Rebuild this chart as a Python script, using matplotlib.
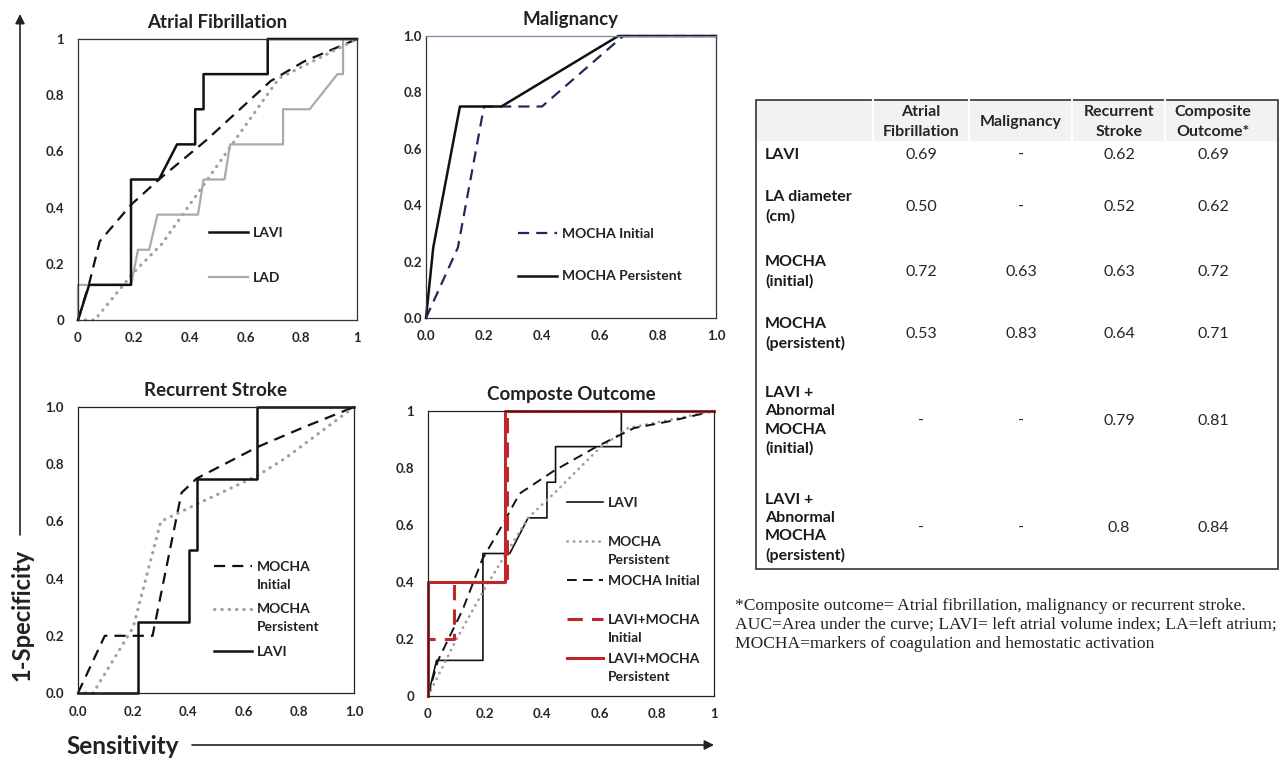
import numpy as np
import matplotlib
matplotlib.use("Agg")
import matplotlib.pyplot as plt
from matplotlib.patches import Rectangle
from matplotlib.legend_handler import HandlerLine2D

plt.rcParams['font.family'] = ['Lato', 'DejaVu Sans']

# ---- ROC curves (x = 1-specificity axis, y = sensitivity axis as drawn)
# Atrial fibrillation
af_lavi_x = [0, 0.04, 0.19, 0.19, 0.29, 0.355, 0.42, 0.42, 0.45, 0.45, 0.68, 0.68, 1]
af_lavi_y = [0, 0.125, 0.125, 0.5, 0.5, 0.625, 0.625, 0.75, 0.75, 0.875, 0.875, 1, 1]
af_lad_x = [0, 0, 0.19, 0.215, 0.255, 0.285, 0.43, 0.45, 0.525, 0.545, 0.735, 0.735, 0.83, 0.93, 0.95, 0.95, 1]
af_lad_y = [0, 0.125, 0.125, 0.25, 0.25, 0.375, 0.375, 0.5, 0.5, 0.625, 0.625, 0.75, 0.75, 0.875, 0.875, 1, 1]
af_init_x = [0, 0.04, 0.078, 0.19, 0.29, 0.46, 0.69, 0.81, 1]
af_init_y = [0, 0.13, 0.28, 0.41, 0.5, 0.64, 0.85, 0.92, 1]
af_pers_x = [0, 0.06, 0.2, 0.3, 0.45, 0.57, 0.72, 0.86, 1]
af_pers_y = [0, 0, 0.17, 0.27, 0.48, 0.65, 0.86, 0.93, 1]

# Malignancy
mal_init_x = [0, 0.11, 0.2, 0.4, 0.68, 1]
mal_init_y = [0, 0.25, 0.75, 0.75, 1, 1]
mal_pers_x = [0, 0.025, 0.117, 0.26, 0.663, 1]
mal_pers_y = [0, 0.25, 0.75, 0.75, 1, 1]

# Recurrent stroke
rs_lavi_x = [0, 0.218, 0.218, 0.403, 0.403, 0.432, 0.432, 0.65, 0.65, 1]
rs_lavi_y = [0, 0, 0.25, 0.25, 0.5, 0.5, 0.75, 0.75, 1, 1]
rs_init_x = [0, 0.097, 0.27, 0.375, 0.43, 0.65, 0.82, 1]
rs_init_y = [0, 0.2, 0.2, 0.7, 0.75, 0.86, 0.93, 1]
rs_pers_x = [0, 0.055, 0.2, 0.3, 0.43, 0.65, 0.75, 1]
rs_pers_y = [0, 0, 0.23, 0.6, 0.66, 0.76, 0.82, 1]

# Composite outcome
co_lavi_x = [0, 0.03, 0.192, 0.192, 0.286, 0.35, 0.416, 0.416, 0.446, 0.446, 0.676, 0.676, 1]
co_lavi_y = [0, 0.125, 0.125, 0.5, 0.5, 0.625, 0.625, 0.75, 0.75, 0.875, 0.875, 1, 1]
co_pers_x = [0, 0.1, 0.2, 0.35, 0.45, 0.6, 0.7, 1]
co_pers_y = [0, 0.2, 0.38, 0.625, 0.72, 0.87, 0.94, 1]
co_init_x = [0, 0.035, 0.12, 0.19, 0.26, 0.32, 0.44, 0.59, 0.72, 0.85, 1]
co_init_y = [0, 0.125, 0.3, 0.48, 0.6, 0.71, 0.79, 0.875, 0.94, 0.965, 1]
co_combo_init_x = [0, 0, 0.09, 0.09, 0.275, 0.275, 1]
co_combo_init_y = [0, 0.2, 0.2, 0.4, 0.4, 1, 1]
co_combo_pers_x = [0, 0, 0.27, 0.27, 1]
co_combo_pers_y = [0, 0.4, 0.4, 1, 1]

ticks = [0, 0.2, 0.4, 0.6, 0.8, 1.0]
labels_short = ['0', '0.2', '0.4', '0.6', '0.8', '1']
labels_long = ['0.0', '0.2', '0.4', '0.6', '0.8', '1.0']

# ---- AUC table
col_names = ['Atrial\nFibrillation', 'Malignancy', 'Recurrent\nStroke', 'Composite\nOutcome*']
row_names = ['LAVI', 'LA diameter\n(cm)', 'MOCHA\n(initial)', 'MOCHA\n(persistent)',
             'LAVI +\nAbnormal\nMOCHA\n(initial)', 'LAVI +\nAbnormal\nMOCHA\n(persistent)']
auc_af = ['0.69', '0.50', '0.72', '0.53', '-', '-']
auc_mal = ['-', '-', '0.63', '0.83', '-', '-']
auc_rs = ['0.62', '0.52', '0.63', '0.64', '0.79', '0.8']
auc_co = ['0.69', '0.62', '0.72', '0.71', '0.81', '0.84']

footnote = ['*Composite outcome= Atrial fibrillation, malignancy or recurrent stroke.',
            'AUC=Area under the curve; LAVI= left atrial volume index; LA=left atrium;',
            'MOCHA=markers of coagulation and hemostatic activation']

W, H = 1283, 758
fig = plt.figure(figsize=(W / 100, H / 100), dpi=100)

# background axes in pixel coordinates for arrows, labels and table
bg = fig.add_axes([0, 0, 1, 1])
bg.set_xlim(0, W)
bg.set_ylim(H, 0)
bg.axis('off')


class TopLine(HandlerLine2D):
    """legend line drawn level with the first text line"""
    def __init__(self, yoff=7.2, **kw):
        super().__init__(**kw)
        self.yoff = yoff

    def create_artists(self, legend, orig_handle, xdescent, ydescent, width, height, fontsize, trans):
        return super().create_artists(legend, orig_handle, xdescent, ydescent - 2 * self.yoff,
                                      width, height, fontsize, trans)


def panel(px, title, xlabels, ylabels, frame='#333333', ypad=10):
    x0, y0, x1, y1 = px
    ax = fig.add_axes([x0 / W, 1 - y1 / H, (x1 - x0) / W, (y1 - y0) / H])
    ax.set_xlim(0, 1)
    ax.set_ylim(0, 1)
    ax.set_xticks(ticks, xlabels)
    ax.set_yticks(ticks, ylabels)
    ax.tick_params(length=0, labelsize=9.5, colors='#262626')
    ax.tick_params(axis='x', pad=9)
    ax.tick_params(axis='y', pad=ypad)
    for lab in ax.get_xticklabels() + ax.get_yticklabels():
        lab.set_fontweight('bold')
    for s in ax.spines.values():
        s.set_color(frame)
        s.set_linewidth(0.9)
    ax.set_title(title, fontsize=13.5, fontweight='bold', pad=8, color='#222222')
    return ax


def legend(ax, handles, names, anchor, spacing, hlen, top=False):
    hm = {h: TopLine() for h in handles} if top else None
    leg = ax.legend(handles, names, bbox_to_anchor=anchor, loc='upper left', frameon=False,
                    fontsize=10, borderpad=0, borderaxespad=0, handletextpad=0.35,
                    handlelength=hlen, labelspacing=spacing, handler_map=hm)
    for t in leg.get_texts():
        t.set_linespacing(1.6)
        t.set_fontweight('bold')
        t.set_color('#222222')
    return leg


dash = (0, (5, 3.2))
dots = (0, (0.1, 2.2))
gray_dot = '#a0a0a0'

# Atrial fibrillation
ax1 = panel((78, 39, 357, 320), 'Atrial Fibrillation', labels_short, labels_short)
ax1.plot(af_init_x, af_init_y, color='#111111', lw=1.6, ls=dash, clip_on=False)
ax1.plot(af_pers_x, af_pers_y, color=gray_dot, lw=2.3, ls=dots, dash_capstyle='round', clip_on=False)
l_lad, = ax1.plot(af_lad_x, af_lad_y, color='#aaaaaa', lw=1.6, clip_on=False)
l_lavi, = ax1.plot(af_lavi_x, af_lavi_y, color='#111111', lw=1.8, clip_on=False)
legend(ax1, [l_lavi, l_lad], ['LAVI', 'LAD'], (0.47, 0.332), 2.4, 2.8)

# Malignancy
ax2 = panel((426, 36, 716, 318), 'Malignancy', labels_long, labels_long, ypad=3)
ax2.spines['top'].set_color('#7a86a8')
m1, = ax2.plot(mal_init_x, mal_init_y, color='#1f2a5c', lw=1.6, ls=dash, clip_on=False)
m2, = ax2.plot(mal_pers_x, mal_pers_y, color='#111111', lw=1.8, clip_on=False)
legend(ax2, [m1, m2], ['MOCHA Initial', 'MOCHA Persistent'], (0.317, 0.319), 2.19, 2.8)

# Recurrent stroke
ax3 = panel((78, 407, 354, 693), 'Recurrent Stroke', labels_long, labels_long, frame='#222222')
r1, = ax3.plot(rs_init_x, rs_init_y, color='#111111', lw=1.6, ls=dash, clip_on=False)
r2, = ax3.plot(rs_pers_x, rs_pers_y, color=gray_dot, lw=2.3, ls=dots, dash_capstyle='round', clip_on=False)
r3, = ax3.plot(rs_lavi_x, rs_lavi_y, color='#111111', lw=1.8, clip_on=False)
legend(ax3, [r1, r2, r3], ['MOCHA\nInitial', 'MOCHA\nPersistent', 'LAVI\n'], (0.493, 0.462), 0.9, 2.7, top=True)

# Composite outcome
ax4 = panel((428, 411, 714, 696), 'Composte Outcome', labels_short, labels_short, frame='#222222')
c1, = ax4.plot(co_lavi_x, co_lavi_y, color='#111111', lw=1.2, clip_on=False)
c2, = ax4.plot(co_pers_x, co_pers_y, color=gray_dot, lw=2.0, ls=dots, dash_capstyle='round', clip_on=False)
c3, = ax4.plot(co_init_x, co_init_y, color='#111111', lw=1.4, ls=dash, clip_on=False)
c4, = ax4.plot(co_combo_init_x, co_combo_init_y, color='#c0272d', lw=2.2, ls=(0, (5, 3)), clip_on=False)
c5, = ax4.plot(co_combo_pers_x, co_combo_pers_y, color='#c0272d', lw=2.2, clip_on=False)
legend(ax4, [c1, c2, c3, c4, c5],
       ['LAVI\n', 'MOCHA\nPersistent', 'MOCHA Initial\n', 'LAVI+MOCHA\nInitial', 'LAVI+MOCHA\nPersistent'],
       (0.486, 0.698), 0.65, 2.6, top=True)

# axis arrows and labels
arrow = dict(arrowstyle='-|>', color='#222222', lw=1.2, mutation_scale=14, shrinkA=0, shrinkB=0)
bg.annotate('', xy=(20, 14), xytext=(20, 535), arrowprops=arrow)
bg.annotate('', xy=(714, 745), xytext=(192, 745), arrowprops=arrow)
bg.text(22, 615, '1-Specificity', rotation=90, ha='center', va='center',
        fontsize=17, fontweight='bold', color='#222222')
bg.text(66, 746, 'Sensitivity', ha='left', va='center', fontsize=17.5, fontweight='bold', color='#222222')

# table
tx0, ty0, tx1, ty1 = 756, 100, 1278, 569
bounds = [tx0, 873, 969, 1072, 1165, tx1]
col_x = [921, 1021, 1119, 1213]
row_y = [155, 207, 272, 334, 421, 528]
bg.add_patch(Rectangle((tx0, ty0), tx1 - tx0, 41, facecolor='#f2f2f2', edgecolor='none'))
for b in bounds[1:-1]:
    bg.plot([b, b], [ty0, ty0 + 41], color='white', lw=1.5)
bg.add_patch(Rectangle((tx0, ty0), tx1 - tx0, ty1 - ty0, facecolor='none', edgecolor='#333333', lw=1.2))
for cx, name in zip(col_x, col_names):
    bg.text(cx, 122, name, ha='center', va='center', fontsize=11.5, fontweight='bold',
            color='#262626', linespacing=1.55)
for ry, name in zip(row_y, row_names):
    bg.text(765, ry, name, ha='left', va='center', fontsize=11.5, fontweight='bold',
            color='#1a1a1a', linespacing=1.4)
for cx, vals in zip(col_x, [auc_af, auc_mal, auc_rs, auc_co]):
    for ry, v in zip(row_y, vals):
        bg.text(cx, ry, v, ha='center', va='center', fontsize=11.5, color='#262626')

for i, line in enumerate(footnote):
    bg.text(735, 606 + 19 * i, line, ha='left', va='center', fontsize=12.6,
            family='Liberation Serif', color='#222222')

fig.savefig('out.png', dpi=100)
